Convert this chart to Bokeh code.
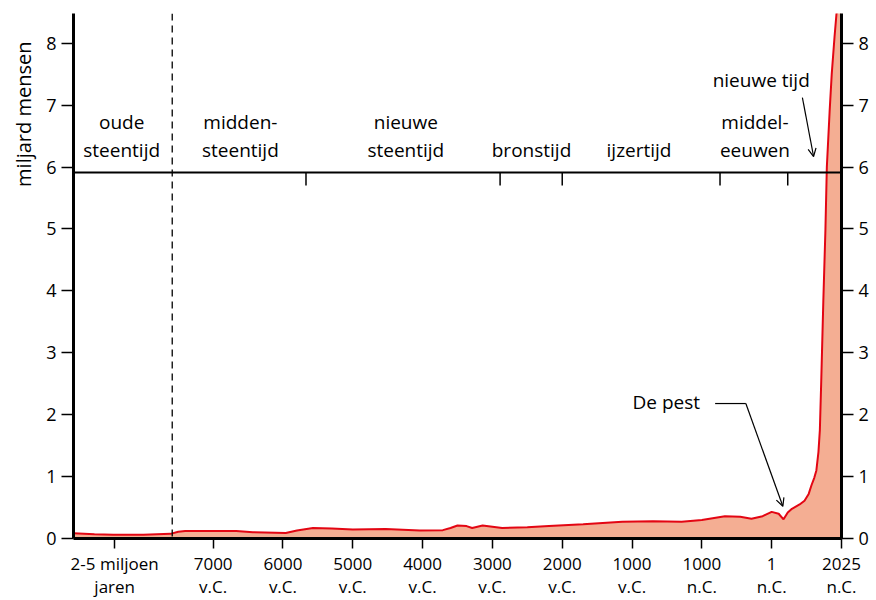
from bokeh.plotting import figure
from bokeh.models import Range1d, LinearAxis, FixedTicker, Arrow, OpenHead, Span, Title
from bokeh.core.properties import value
from bokeh.embed import file_html
from bokeh.resources import INLINE

# ---- data ----
tick_pos = [0.59, 2, 3, 4, 5, 6, 7, 8, 9, 10, 11]
tick_line1 = ["2-5 miljoen", "7000", "6000", "5000", "4000", "3000", "2000", "1000", "1000", "1", "2025"]
tick_line2 = ["jaren", "v.C.", "v.C.", "v.C.", "v.C.", "v.C.", "v.C.", "v.C.", "n.C.", "n.C.", "n.C."]

pop_x = [0.0, 0.3, 0.57, 1.0, 1.39, 1.5, 1.6, 2.0, 2.33, 2.57, 3.04, 3.2, 3.43, 3.7, 4.0, 4.47,
         4.96, 5.29, 5.4, 5.5, 5.63, 5.71, 5.86, 6.0, 6.14, 6.5, 6.81, 7.3, 7.86, 8.3, 8.71,
         9.0, 9.33, 9.55, 9.71, 9.87, 10.0, 10.1, 10.17, 10.23, 10.29, 10.4, 10.47, 10.53,
         10.57, 10.61, 10.64, 10.67, 10.69, 10.71, 10.74, 10.77, 10.79, 10.83, 10.86, 10.9,
         10.93, 10.97, 11.0]
pop_y = [0.086, 0.07, 0.06, 0.06, 0.075, 0.11, 0.12, 0.12, 0.12, 0.10, 0.09, 0.13, 0.17, 0.16,
         0.145, 0.155, 0.13, 0.135, 0.17, 0.21, 0.20, 0.17, 0.21, 0.19, 0.17, 0.18, 0.20, 0.23,
         0.27, 0.28, 0.27, 0.30, 0.36, 0.35, 0.32, 0.36, 0.43, 0.40, 0.31, 0.42, 0.48, 0.55,
         0.61, 0.72, 0.86, 0.98, 1.1, 1.4, 1.75, 2.55, 3.85, 5.0, 6.0, 6.9, 7.5, 8.1, 8.5,
         8.9, 9.2]

era_texts = ["oude", "steentijd", "midden-", "steentijd", "nieuwe", "steentijd",
             "bronstijd", "ijzertijd", "middel-", "eeuwen", "nieuwe tijd"]
era_bounds = [3.33, 6.11, 7.0, 9.26, 10.23]
era_level = 5.91
mesolithic_start = 1.414
plague_label = "De pest"
y_title = "miljard mensen"

# ---- figure ----
FONT = "Open Sans"
p = figure(width=872, height=600, output_backend="svg", toolbar_location=None,
           x_range=Range1d(0, 11.0), y_range=Range1d(0, 8.48),
           min_border_left=70, min_border_right=31, min_border_top=13, min_border_bottom=62,
           x_axis_location=None, y_axis_location=None)
p.outline_line_color = None
p.grid.visible = False
p.background_fill_color = "white"
p.border_fill_color = "white"

# area + line
p.varea(x=pop_x, y1=[0] * len(pop_x), y2=pop_y, fill_color="#F4AE93", fill_alpha=1)
p.line(x=pop_x, y=pop_y, line_color="#E30613", line_width=2)

# dashed separator
p.add_layout(Span(location=mesolithic_start, dimension="height", line_color="black",
                  line_width=1.3, line_dash="7 5"))
# era line and boundaries
p.add_layout(Span(location=era_level, dimension="width", line_color="black", line_width=2))
p.segment(x0=era_bounds, y0=[era_level] * len(era_bounds), x1=era_bounds,
          y1=[era_level - 0.21] * len(era_bounds), line_color="black", line_width=1.5)

# era labels
era_x = [0.69, 0.69, 2.39, 2.39, 4.76, 4.76, 6.56, 8.1, 9.76, 9.76, 9.85]
era_y = [6.72, 6.27, 6.72, 6.27, 6.72, 6.27, 6.27, 6.27, 6.72, 6.27, 7.4]
p.text(x=era_x, y=era_y, text=era_texts, text_align="center", text_baseline="middle",
       text_font=value(FONT), text_font_size="19px", text_color="black")

# nieuwe tijd arrow
p.add_layout(Arrow(end=OpenHead(size=8, line_width=1.2, line_color="black"),
                   x_start=10.44, y_start=7.12, x_end=10.6, y_end=6.17,
                   line_width=1.2, line_color="black"))

# plague annotation
p.text(x=[8.49], y=[2.2], text=[plague_label], text_align="center", text_baseline="middle",
       text_font=value(FONT), text_font_size="19px", text_color="black")
p.line(x=[9.19, 9.63], y=[2.18, 2.18], line_color="black", line_width=1.2)
p.add_layout(Arrow(end=OpenHead(size=8, line_width=1.2, line_color="black"),
                   x_start=9.63, y_start=2.18, x_end=10.16, y_end=0.52,
                   line_width=1.2, line_color="black"))

# y axes
def style_y(ax):
    ax.ticker = FixedTicker(ticks=list(range(0, 9)))
    ax.axis_line_width = 3
    ax.major_tick_line_width = 1.5
    ax.major_tick_out = 12
    ax.major_tick_in = 0
    ax.minor_tick_out = 0
    ax.minor_tick_in = 0
    ax.major_label_standoff = 5
    ax.major_label_text_font = FONT
    ax.major_label_text_font_size = "18px"
    ax.major_label_text_color = "black"

yl = LinearAxis()
style_y(yl)
p.add_layout(yl, "left")
yr = LinearAxis()
style_y(yr)
p.add_layout(yr, "right")

# x axes (two stacked for two label lines)
def style_x(ax, overrides):
    ax.major_label_overrides = {t: s for t, s in zip(tick_pos, overrides)}
    ax.minor_tick_out = 0
    ax.minor_tick_in = 0
    ax.major_tick_in = 0
    ax.major_label_text_font = FONT
    ax.major_label_text_font_size = "17px"
    ax.major_label_text_color = "black"

xa = LinearAxis(ticker=FixedTicker(ticks=tick_pos))
style_x(xa, tick_line1)
xa.axis_line_width = 3
xa.major_tick_line_width = 1.5
xa.major_tick_out = 10
xa.major_label_standoff = 3
p.add_layout(xa, "below")

xb = LinearAxis(ticker=FixedTicker(ticks=tick_pos))
style_x(xb, tick_line2)
xb.axis_line_color = None
xb.major_tick_line_color = None
xb.major_tick_out = 0
xb.major_label_standoff = -3
p.add_layout(xb, "below")

# y axis title (on the left, near the top)
p.add_layout(Title(text=y_title, align="right", offset=28, text_font=FONT,
                   text_font_size="20px", text_font_style="normal", text_color="black",
                   standoff=14), "left")

open("out.html", "w").write(file_html(p, INLINE))
